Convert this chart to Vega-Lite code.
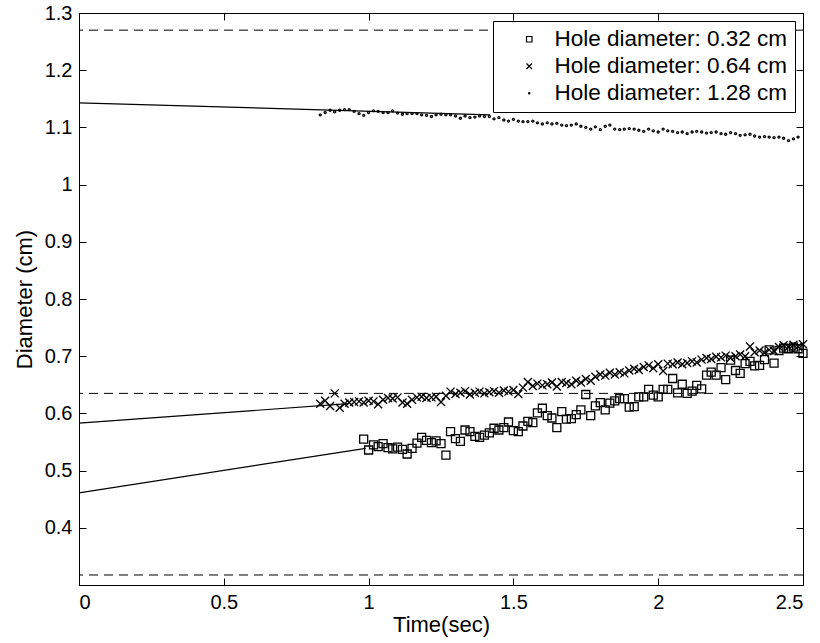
{
"$schema":"https://vega.github.io/schema/vega-lite/v6.json",
"width":724,"height":572,
"autosize":{"type":"none"},
"padding":{"left":79,"top":13,"right":17,"bottom":58},
"background":"white",
"config":{
 "font":"Liberation Sans",
 "view":{"stroke":"black","strokeWidth":1},
 "axis":{"grid":false,"domainColor":"black","tickColor":"black","labelColor":"black","titleColor":"black","labelFontSize":20,"titleFontSize":22,"titleFontWeight":"normal","ticks":true,"tickSize":-7,"tickWidth":1,"labelFont":"Liberation Sans","titleFont":"Liberation Sans"},
 "legend":{"orient":"top-right","offset":8,"fillColor":"white","strokeColor":"black","padding":7,"labelFontSize":22.5,"labelLimit":400,"labelFont":"Liberation Sans","labelColor":"black","symbolSize":30,"symbolStrokeWidth":1.2,"symbolOffset":18,"labelOffset":14,"rowPadding":4}
},
"datasets":{
 "limits":[{"d":1.27},{"d":0.635},{"d":0.3175}],
 "fits":[{"t":0,"d":1.143,"s":"1.28"},{"t":1.42,"d":1.122,"s":"1.28"},{"t":0,"d":0.583,"s":"0.64"},{"t":0.93,"d":0.617,"s":"0.64"},{"t":0,"d":0.461,"s":"0.32"},{"t":0.99,"d":0.539,"s":"0.32"}],
 "pts":[
{"t":0.983,"d":0.555,"s":"0.32"},{"t":1.0,"d":0.536,"s":"0.32"},{"t":1.017,"d":0.545,"s":"0.32"},{"t":1.033,"d":0.542,"s":"0.32"},{"t":1.05,"d":0.547,"s":"0.32"},{"t":1.067,"d":0.54,"s":"0.32"},{"t":1.083,"d":0.538,"s":"0.32"},{"t":1.1,"d":0.541,"s":"0.32"},{"t":1.117,"d":0.537,"s":"0.32"},{"t":1.133,"d":0.529,"s":"0.32"},{"t":1.15,"d":0.539,"s":"0.32"},{"t":1.167,"d":0.548,"s":"0.32"},{"t":1.183,"d":0.558,"s":"0.32"},{"t":1.2,"d":0.553,"s":"0.32"},{"t":1.217,"d":0.549,"s":"0.32"},{"t":1.233,"d":0.552,"s":"0.32"},{"t":1.25,"d":0.547,"s":"0.32"},{"t":1.267,"d":0.527,"s":"0.32"},{"t":1.283,"d":0.568,"s":"0.32"},{"t":1.3,"d":0.556,"s":"0.32"},{"t":1.317,"d":0.551,"s":"0.32"},{"t":1.333,"d":0.571,"s":"0.32"},{"t":1.35,"d":0.568,"s":"0.32"},{"t":1.367,"d":0.56,"s":"0.32"},{"t":1.383,"d":0.558,"s":"0.32"},{"t":1.4,"d":0.562,"s":"0.32"},{"t":1.417,"d":0.566,"s":"0.32"},{"t":1.433,"d":0.574,"s":"0.32"},{"t":1.45,"d":0.571,"s":"0.32"},{"t":1.467,"d":0.575,"s":"0.32"},{"t":1.483,"d":0.585,"s":"0.32"},{"t":1.5,"d":0.57,"s":"0.32"},{"t":1.517,"d":0.568,"s":"0.32"},{"t":1.533,"d":0.578,"s":"0.32"},{"t":1.55,"d":0.586,"s":"0.32"},{"t":1.567,"d":0.584,"s":"0.32"},{"t":1.583,"d":0.601,"s":"0.32"},{"t":1.6,"d":0.609,"s":"0.32"},{"t":1.617,"d":0.596,"s":"0.32"},{"t":1.633,"d":0.592,"s":"0.32"},{"t":1.65,"d":0.575,"s":"0.32"},{"t":1.667,"d":0.603,"s":"0.32"},{"t":1.683,"d":0.59,"s":"0.32"},{"t":1.7,"d":0.591,"s":"0.32"},{"t":1.717,"d":0.598,"s":"0.32"},{"t":1.733,"d":0.606,"s":"0.32"},{"t":1.75,"d":0.633,"s":"0.32"},{"t":1.767,"d":0.596,"s":"0.32"},{"t":1.783,"d":0.613,"s":"0.32"},{"t":1.8,"d":0.619,"s":"0.32"},{"t":1.817,"d":0.606,"s":"0.32"},{"t":1.833,"d":0.618,"s":"0.32"},{"t":1.85,"d":0.622,"s":"0.32"},{"t":1.867,"d":0.626,"s":"0.32"},{"t":1.883,"d":0.626,"s":"0.32"},{"t":1.9,"d":0.611,"s":"0.32"},{"t":1.917,"d":0.612,"s":"0.32"},{"t":1.933,"d":0.629,"s":"0.32"},{"t":1.95,"d":0.629,"s":"0.32"},{"t":1.967,"d":0.642,"s":"0.32"},{"t":1.983,"d":0.632,"s":"0.32"},{"t":2.0,"d":0.629,"s":"0.32"},{"t":2.017,"d":0.642,"s":"0.32"},{"t":2.033,"d":0.642,"s":"0.32"},{"t":2.05,"d":0.661,"s":"0.32"},{"t":2.067,"d":0.636,"s":"0.32"},{"t":2.083,"d":0.651,"s":"0.32"},{"t":2.1,"d":0.635,"s":"0.32"},{"t":2.117,"d":0.639,"s":"0.32"},{"t":2.133,"d":0.649,"s":"0.32"},{"t":2.15,"d":0.643,"s":"0.32"},{"t":2.167,"d":0.667,"s":"0.32"},{"t":2.183,"d":0.672,"s":"0.32"},{"t":2.2,"d":0.667,"s":"0.32"},{"t":2.217,"d":0.68,"s":"0.32"},{"t":2.233,"d":0.659,"s":"0.32"},{"t":2.25,"d":0.693,"s":"0.32"},{"t":2.267,"d":0.675,"s":"0.32"},{"t":2.283,"d":0.67,"s":"0.32"},{"t":2.3,"d":0.687,"s":"0.32"},{"t":2.317,"d":0.691,"s":"0.32"},{"t":2.333,"d":0.683,"s":"0.32"},{"t":2.35,"d":0.684,"s":"0.32"},{"t":2.367,"d":0.694,"s":"0.32"},{"t":2.383,"d":0.711,"s":"0.32"},{"t":2.4,"d":0.688,"s":"0.32"},{"t":2.417,"d":0.71,"s":"0.32"},{"t":2.433,"d":0.714,"s":"0.32"},{"t":2.45,"d":0.713,"s":"0.32"},{"t":2.467,"d":0.716,"s":"0.32"},{"t":2.483,"d":0.713,"s":"0.32"},{"t":2.5,"d":0.705,"s":"0.32"},
{"t":0.833,"d":0.617,"s":"0.64"},{"t":0.85,"d":0.622,"s":"0.64"},{"t":0.867,"d":0.613,"s":"0.64"},{"t":0.883,"d":0.635,"s":"0.64"},{"t":0.9,"d":0.61,"s":"0.64"},{"t":0.917,"d":0.617,"s":"0.64"},{"t":0.933,"d":0.619,"s":"0.64"},{"t":0.95,"d":0.62,"s":"0.64"},{"t":0.967,"d":0.621,"s":"0.64"},{"t":0.983,"d":0.619,"s":"0.64"},{"t":1.0,"d":0.622,"s":"0.64"},{"t":1.017,"d":0.621,"s":"0.64"},{"t":1.033,"d":0.616,"s":"0.64"},{"t":1.05,"d":0.624,"s":"0.64"},{"t":1.067,"d":0.627,"s":"0.64"},{"t":1.083,"d":0.626,"s":"0.64"},{"t":1.1,"d":0.628,"s":"0.64"},{"t":1.117,"d":0.619,"s":"0.64"},{"t":1.133,"d":0.617,"s":"0.64"},{"t":1.15,"d":0.624,"s":"0.64"},{"t":1.167,"d":0.628,"s":"0.64"},{"t":1.183,"d":0.629,"s":"0.64"},{"t":1.2,"d":0.627,"s":"0.64"},{"t":1.217,"d":0.628,"s":"0.64"},{"t":1.233,"d":0.629,"s":"0.64"},{"t":1.25,"d":0.62,"s":"0.64"},{"t":1.267,"d":0.631,"s":"0.64"},{"t":1.283,"d":0.638,"s":"0.64"},{"t":1.3,"d":0.634,"s":"0.64"},{"t":1.317,"d":0.636,"s":"0.64"},{"t":1.333,"d":0.639,"s":"0.64"},{"t":1.35,"d":0.633,"s":"0.64"},{"t":1.367,"d":0.636,"s":"0.64"},{"t":1.383,"d":0.638,"s":"0.64"},{"t":1.4,"d":0.635,"s":"0.64"},{"t":1.417,"d":0.637,"s":"0.64"},{"t":1.433,"d":0.639,"s":"0.64"},{"t":1.45,"d":0.636,"s":"0.64"},{"t":1.467,"d":0.64,"s":"0.64"},{"t":1.483,"d":0.638,"s":"0.64"},{"t":1.5,"d":0.641,"s":"0.64"},{"t":1.517,"d":0.634,"s":"0.64"},{"t":1.533,"d":0.645,"s":"0.64"},{"t":1.55,"d":0.655,"s":"0.64"},{"t":1.567,"d":0.648,"s":"0.64"},{"t":1.583,"d":0.652,"s":"0.64"},{"t":1.6,"d":0.649,"s":"0.64"},{"t":1.617,"d":0.651,"s":"0.64"},{"t":1.633,"d":0.654,"s":"0.64"},{"t":1.65,"d":0.647,"s":"0.64"},{"t":1.667,"d":0.655,"s":"0.64"},{"t":1.683,"d":0.653,"s":"0.64"},{"t":1.7,"d":0.651,"s":"0.64"},{"t":1.717,"d":0.657,"s":"0.64"},{"t":1.733,"d":0.654,"s":"0.64"},{"t":1.75,"d":0.66,"s":"0.64"},{"t":1.767,"d":0.657,"s":"0.64"},{"t":1.783,"d":0.664,"s":"0.64"},{"t":1.8,"d":0.668,"s":"0.64"},{"t":1.817,"d":0.666,"s":"0.64"},{"t":1.833,"d":0.671,"s":"0.64"},{"t":1.85,"d":0.668,"s":"0.64"},{"t":1.867,"d":0.672,"s":"0.64"},{"t":1.883,"d":0.67,"s":"0.64"},{"t":1.9,"d":0.675,"s":"0.64"},{"t":1.917,"d":0.678,"s":"0.64"},{"t":1.933,"d":0.676,"s":"0.64"},{"t":1.95,"d":0.681,"s":"0.64"},{"t":1.967,"d":0.684,"s":"0.64"},{"t":1.983,"d":0.679,"s":"0.64"},{"t":2.0,"d":0.686,"s":"0.64"},{"t":2.017,"d":0.674,"s":"0.64"},{"t":2.033,"d":0.687,"s":"0.64"},{"t":2.05,"d":0.686,"s":"0.64"},{"t":2.067,"d":0.689,"s":"0.64"},{"t":2.083,"d":0.686,"s":"0.64"},{"t":2.1,"d":0.688,"s":"0.64"},{"t":2.117,"d":0.691,"s":"0.64"},{"t":2.133,"d":0.689,"s":"0.64"},{"t":2.15,"d":0.694,"s":"0.64"},{"t":2.167,"d":0.697,"s":"0.64"},{"t":2.183,"d":0.695,"s":"0.64"},{"t":2.2,"d":0.699,"s":"0.64"},{"t":2.217,"d":0.698,"s":"0.64"},{"t":2.233,"d":0.701,"s":"0.64"},{"t":2.25,"d":0.697,"s":"0.64"},{"t":2.267,"d":0.7,"s":"0.64"},{"t":2.283,"d":0.703,"s":"0.64"},{"t":2.3,"d":0.7,"s":"0.64"},{"t":2.317,"d":0.717,"s":"0.64"},{"t":2.333,"d":0.707,"s":"0.64"},{"t":2.35,"d":0.71,"s":"0.64"},{"t":2.367,"d":0.706,"s":"0.64"},{"t":2.383,"d":0.711,"s":"0.64"},{"t":2.4,"d":0.709,"s":"0.64"},{"t":2.417,"d":0.716,"s":"0.64"},{"t":2.433,"d":0.719,"s":"0.64"},{"t":2.45,"d":0.716,"s":"0.64"},{"t":2.467,"d":0.72,"s":"0.64"},{"t":2.483,"d":0.717,"s":"0.64"},{"t":2.5,"d":0.721,"s":"0.64"},
{"t":0.833,"d":1.122,"s":"1.28"},{"t":0.85,"d":1.126,"s":"1.28"},{"t":0.867,"d":1.13,"s":"1.28"},{"t":0.883,"d":1.127,"s":"1.28"},{"t":0.9,"d":1.13,"s":"1.28"},{"t":0.917,"d":1.131,"s":"1.28"},{"t":0.933,"d":1.131,"s":"1.28"},{"t":0.95,"d":1.128,"s":"1.28"},{"t":0.967,"d":1.124,"s":"1.28"},{"t":0.983,"d":1.121,"s":"1.28"},{"t":1.0,"d":1.126,"s":"1.28"},{"t":1.017,"d":1.129,"s":"1.28"},{"t":1.033,"d":1.128,"s":"1.28"},{"t":1.05,"d":1.126,"s":"1.28"},{"t":1.067,"d":1.126,"s":"1.28"},{"t":1.083,"d":1.129,"s":"1.28"},{"t":1.1,"d":1.125,"s":"1.28"},{"t":1.117,"d":1.123,"s":"1.28"},{"t":1.133,"d":1.124,"s":"1.28"},{"t":1.15,"d":1.124,"s":"1.28"},{"t":1.167,"d":1.124,"s":"1.28"},{"t":1.183,"d":1.122,"s":"1.28"},{"t":1.2,"d":1.121,"s":"1.28"},{"t":1.217,"d":1.119,"s":"1.28"},{"t":1.233,"d":1.122,"s":"1.28"},{"t":1.25,"d":1.123,"s":"1.28"},{"t":1.267,"d":1.122,"s":"1.28"},{"t":1.283,"d":1.122,"s":"1.28"},{"t":1.3,"d":1.12,"s":"1.28"},{"t":1.317,"d":1.116,"s":"1.28"},{"t":1.333,"d":1.12,"s":"1.28"},{"t":1.35,"d":1.117,"s":"1.28"},{"t":1.367,"d":1.118,"s":"1.28"},{"t":1.383,"d":1.12,"s":"1.28"},{"t":1.4,"d":1.119,"s":"1.28"},{"t":1.417,"d":1.119,"s":"1.28"},{"t":1.433,"d":1.115,"s":"1.28"},{"t":1.45,"d":1.117,"s":"1.28"},{"t":1.467,"d":1.113,"s":"1.28"},{"t":1.483,"d":1.111,"s":"1.28"},{"t":1.5,"d":1.114,"s":"1.28"},{"t":1.517,"d":1.111,"s":"1.28"},{"t":1.533,"d":1.11,"s":"1.28"},{"t":1.55,"d":1.11,"s":"1.28"},{"t":1.567,"d":1.111,"s":"1.28"},{"t":1.583,"d":1.108,"s":"1.28"},{"t":1.6,"d":1.106,"s":"1.28"},{"t":1.617,"d":1.108,"s":"1.28"},{"t":1.633,"d":1.106,"s":"1.28"},{"t":1.65,"d":1.107,"s":"1.28"},{"t":1.667,"d":1.104,"s":"1.28"},{"t":1.683,"d":1.103,"s":"1.28"},{"t":1.7,"d":1.104,"s":"1.28"},{"t":1.717,"d":1.106,"s":"1.28"},{"t":1.733,"d":1.102,"s":"1.28"},{"t":1.75,"d":1.1,"s":"1.28"},{"t":1.767,"d":1.097,"s":"1.28"},{"t":1.783,"d":1.101,"s":"1.28"},{"t":1.8,"d":1.096,"s":"1.28"},{"t":1.817,"d":1.102,"s":"1.28"},{"t":1.833,"d":1.104,"s":"1.28"},{"t":1.85,"d":1.097,"s":"1.28"},{"t":1.867,"d":1.096,"s":"1.28"},{"t":1.883,"d":1.097,"s":"1.28"},{"t":1.9,"d":1.098,"s":"1.28"},{"t":1.917,"d":1.097,"s":"1.28"},{"t":1.933,"d":1.095,"s":"1.28"},{"t":1.95,"d":1.093,"s":"1.28"},{"t":1.967,"d":1.097,"s":"1.28"},{"t":1.983,"d":1.094,"s":"1.28"},{"t":2.0,"d":1.092,"s":"1.28"},{"t":2.017,"d":1.097,"s":"1.28"},{"t":2.033,"d":1.094,"s":"1.28"},{"t":2.05,"d":1.093,"s":"1.28"},{"t":2.067,"d":1.091,"s":"1.28"},{"t":2.083,"d":1.092,"s":"1.28"},{"t":2.1,"d":1.089,"s":"1.28"},{"t":2.117,"d":1.092,"s":"1.28"},{"t":2.133,"d":1.093,"s":"1.28"},{"t":2.15,"d":1.092,"s":"1.28"},{"t":2.167,"d":1.09,"s":"1.28"},{"t":2.183,"d":1.091,"s":"1.28"},{"t":2.2,"d":1.092,"s":"1.28"},{"t":2.217,"d":1.089,"s":"1.28"},{"t":2.233,"d":1.088,"s":"1.28"},{"t":2.25,"d":1.091,"s":"1.28"},{"t":2.267,"d":1.089,"s":"1.28"},{"t":2.283,"d":1.086,"s":"1.28"},{"t":2.3,"d":1.087,"s":"1.28"},{"t":2.317,"d":1.088,"s":"1.28"},{"t":2.333,"d":1.085,"s":"1.28"},{"t":2.35,"d":1.083,"s":"1.28"},{"t":2.367,"d":1.084,"s":"1.28"},{"t":2.383,"d":1.083,"s":"1.28"},{"t":2.4,"d":1.082,"s":"1.28"},{"t":2.417,"d":1.083,"s":"1.28"},{"t":2.433,"d":1.081,"s":"1.28"},{"t":2.45,"d":1.077,"s":"1.28"},{"t":2.467,"d":1.08,"s":"1.28"},{"t":2.483,"d":1.083,"s":"1.28"}
 ]
},
"layer":[
 {"data":{"name":"limits"},"mark":{"type":"rule","color":"black","strokeWidth":1,"strokeDash":[9,6]},
  "encoding":{"y":{"field":"d","type":"quantitative","scale":{"domain":[0.3,1.3],"nice":false,"zero":false},"axis":null}}},
 {"data":{"name":"fits"},"mark":{"type":"line","color":"black","strokeWidth":1.2},
  "encoding":{"x":{"field":"t","type":"quantitative","scale":{"domain":[0,2.5],"nice":false,"zero":false},"axis":null},
   "y":{"field":"d","type":"quantitative","scale":{"domain":[0.3,1.3],"nice":false,"zero":false},"axis":null},
   "detail":{"field":"s","type":"nominal"}}},
 {"data":{"name":"pts"},"mark":{"type":"point","filled":false,"color":"black","strokeWidth":1.3,"size":64,"opacity":1},
  "encoding":{"x":{"field":"t","type":"quantitative","scale":{"domain":[0,2.5],"nice":false,"zero":false},
    "axis":{"title":"Time(sec)","values":[0,0.5,1,1.5,2,2.5],"format":"~g","ticks":true,"tickSize":-7,"labelPadding":14,"titlePadding":2}},
   "y":{"field":"d","type":"quantitative","scale":{"domain":[0.3,1.3],"nice":false,"zero":false},
    "axis":{"title":"Diameter (cm)","values":[0.4,0.5,0.6,0.7,0.8,0.9,1,1.1,1.2,1.3],"format":"~g","ticks":true,"tickSize":-7,"labelPadding":14,"titlePadding":8}},
   "shape":{"field":"s","type":"nominal","scale":{"domain":["0.32","0.64","1.28"],"range":["M-1,-1H1V1H-1Z","M-1,-1L1,1M-1,1L1,-1","M0,-0.25A0.25,0.25,0,1,1,0,0.25A0.25,0.25,0,1,1,0,-0.25Z"]},
    "legend":{"title":null,"labelExpr":"'Hole diameter: ' + datum.label + ' cm'"}}}},
 {"data":{"values":[{"t":0,"d":0.3}]},"mark":{"type":"point","opacity":0},
  "encoding":{"x":{"field":"t","type":"quantitative","scale":{"domain":[0,2.5],"nice":false,"zero":false},
    "axis":{"orient":"top","labels":false,"title":null,"ticks":true,"tickSize":-7,"values":[0,0.5,1,1.5,2,2.5]}},
   "y":{"field":"d","type":"quantitative","scale":{"domain":[0.3,1.3],"nice":false,"zero":false},
    "axis":{"orient":"right","labels":false,"title":null,"ticks":true,"tickSize":-7,"values":[0.4,0.5,0.6,0.7,0.8,0.9,1,1.1,1.2,1.3]}}}}
],
"resolve":{"axis":{"x":"independent","y":"independent"}}
}
